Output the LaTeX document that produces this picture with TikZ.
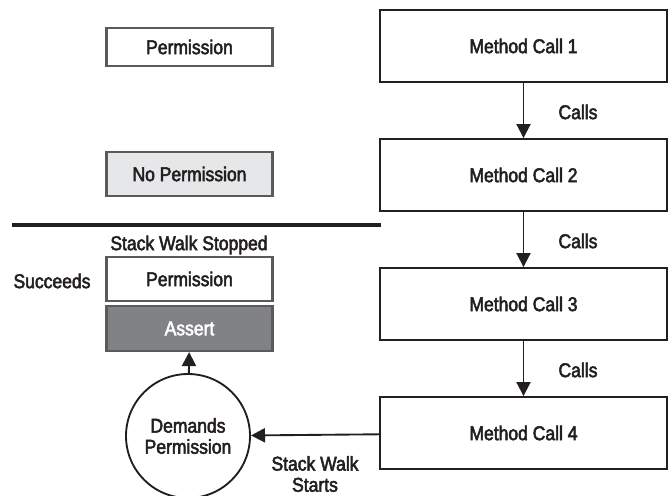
\documentclass[tikz,border=0pt]{standalone}
\usepackage{fontspec}
\setmainfont[FakeStretch=0.88, FakeBold=2.6]{Liberation Sans}
\usetikzlibrary{arrows.meta}
\definecolor{inkgray}{HTML}{231F20}
\definecolor{edgegray}{HTML}{5A5A5A}
\definecolor{lightfill}{HTML}{E6E7E8}
\definecolor{darkfill}{HTML}{808285}
\tikzset{
  methodbox/.style={draw=inkgray, line width=1.6pt, minimum width=8.61cm, minimum height=2.16cm, inner sep=0pt},
  permbox/.style={draw=edgegray, line width=1.8pt, minimum width=4.98cm, minimum height=1.2cm, inner sep=0pt},
  callarrow/.style={-{Triangle[length=12pt,width=12pt]}, line width=1.6pt, draw=inkgray},
  lbl/.style={text=inkgray}
}
\begin{document}
\begin{tikzpicture}[x=0.03cm, y=-0.03cm, font=\fontsize{17}{20}\selectfont]
  \useasboundingbox (0,0) rectangle (668,495);
  % Call chain
  \node[methodbox, lbl] (m1) at (523.5,46) {Method Call 1};
  \node[methodbox, lbl] (m2) at (523.5,175) {Method Call 2};
  \node[methodbox, lbl] (m3) at (523.5,304) {Method Call 3};
  \node[methodbox, lbl] (m4) at (523.5,433) {Method Call 4};
  \draw[callarrow] (m1) -- (m2);
  \draw[callarrow] (m2) -- (m3);
  \draw[callarrow] (m3) -- (m4);
  \node[lbl] (c1) at (578,112) {Calls};
  \node[lbl] (c2) at (578,241) {Calls};
  \node[lbl] (c3) at (578,370) {Calls};
  % Permissions above the line
  \node[permbox, lbl, minimum height=1.14cm] (p1) at (189.5,47) {Permission};
  \node[permbox, lbl, fill=lightfill, minimum height=1.32cm] (np) at (189.5,174) {No Permission};
  \coordinate (sepl) at (12,225);
  \coordinate (sepr) at (381,225);
  \draw[line width=2.8pt, draw=inkgray] (sepl) -- (sepr);
  % Stopped walk
  \node[lbl] (stop) at (189,245) {Stack Walk Stopped};
  \node[permbox, lbl, minimum height=1.32cm] (p2) at (189.5,279) {Permission};
  \node[permbox, fill=darkfill, text=white, minimum height=1.35cm] (as) at (189.5,328.5) {Assert};
  \node[lbl] (ok) at (52,281) {Succeeds};
  % Demand
  \node[circle, draw=inkgray, line width=1.6pt, minimum size=3.72cm, inner sep=0pt, align=center, lbl] (dm) at (188,436) {Demands\\[-2pt]Permission};
  \draw[callarrow] (dm) -- (as);
  \draw[callarrow] (m4) -- (dm);
  \node[lbl, align=center] (walk) at (315,474) {Stack Walk\\[-2pt]Starts};
\end{tikzpicture}
\end{document}
